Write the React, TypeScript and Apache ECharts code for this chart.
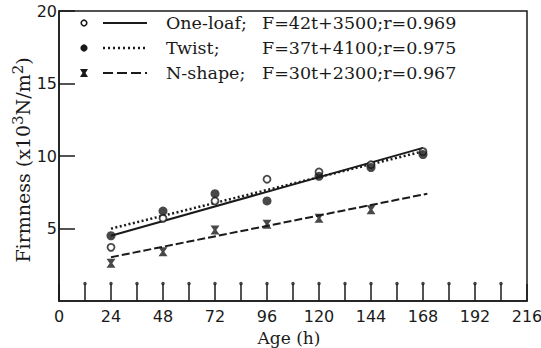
import React, { useEffect, useRef } from 'react';
import * as echarts from 'echarts';

// ---- data ----
const ages = [24, 48, 72, 96, 120, 144, 168];
const nShapeAges = [24, 48, 72, 96, 120, 144];
const oneLoaf = [3.7, 5.7, 6.9, 8.4, 8.9, 9.4, 10.3];
const twist = [4.5, 6.2, 7.4, 6.9, 8.6, 9.2, 10.1];
const nShape = [2.6, 3.4, 4.9, 5.3, 5.7, 6.3];
const oneLoafFit = [[24, 4.5], [168, 10.56]];
const twistFit = [[24, 4.99], [168, 10.32]];
const nShapeFit = [[24, 3.02], [170, 7.4]];
const xTickValues = [12, 24, 36, 48, 60, 72, 84, 96, 108, 120, 132, 144, 156, 168, 180, 192, 204];
const tickHeadLevel = 1.2;
const legendNames = ['One-loaf;', 'Twist;', 'N-shape;'];
const legendEquations = ['F=42t+3500;r=0.969', 'F=37t+4100;r=0.975', 'F=30t+2300;r=0.967'];
const yAxisTitle = '{a|Firmness (x10}{s|3}{a|N/m}{s|2}{a|)}';
const xAxisTitle = 'Age (h)';

const INK = '#1a1a1a';
const HOURGLASS = 'path://M0,0L10,0L6.5,5L10,10L0,10L3.5,5Z';
const TYPE = '"DejaVu Serif", serif';
const SANS = '"DejaVu Sans", sans-serif';

export default function App() {
  const ref = useRef<HTMLDivElement>(null);
  useEffect(() => {
    if (!ref.current) return;
    const chart = echarts.init(ref.current, undefined, { renderer: 'svg' });

    const rowsY = [23, 48, 73];
    const lineDashes: any[] = [null, [2, 3], [10, 4]];
    const graphics: any[] = [];
    legendNames.forEach((name, i) => {
      const y = rowsY[i];
      if (i === 0) {
        graphics.push({ type: 'circle', shape: { cx: 84, cy: y, r: 2.8 }, style: { fill: '#fff', stroke: INK, lineWidth: 1.6 } });
      } else if (i === 1) {
        graphics.push({ type: 'circle', shape: { cx: 84, cy: y, r: 3.6 }, style: { fill: INK } });
      } else {
        graphics.push({ type: 'polygon', shape: { points: [[80, y - 4], [88, y - 4], [85.5, y], [88, y + 4], [80, y + 4], [82.5, y]] }, style: { fill: INK } });
      }
      graphics.push({ type: 'line', shape: { x1: 103, y1: y, x2: 147, y2: y }, style: { stroke: INK, lineWidth: i === 1 ? 2.5 : 2, lineDash: lineDashes[i] } });
      graphics.push({ type: 'text', x: 166, y, style: { text: name, font: `17.5px ${TYPE}`, fill: INK, verticalAlign: 'middle' } });
      graphics.push({ type: 'text', x: 262, y, style: { text: legendEquations[i], font: `17.5px ${TYPE}`, fill: INK, verticalAlign: 'middle' } });
    });
    graphics.push({
      type: 'text', x: 23, y: 160, rotation: Math.PI / 2,
      style: {
        text: yAxisTitle, align: 'center', verticalAlign: 'middle', fill: INK,
        rich: {
          a: { fontFamily: TYPE, fontSize: 19, fill: INK, lineHeight: 26 },
          s: { fontFamily: TYPE, fontSize: 15, fill: INK, verticalAlign: 'top', lineHeight: 26 },
        },
      },
    });
    graphics.push({
      type: 'text', x: 289, y: 338,
      style: { text: xAxisTitle, font: `17px ${TYPE}`, fill: INK, align: 'center', verticalAlign: 'middle' },
    });

    chart.setOption({
      animation: false,
      backgroundColor: '#fff',
      grid: {
        left: 59, right: 14, top: 11, bottom: 47, outerBoundsMode: 'none', containLabel: false,
        show: true, borderColor: INK, borderWidth: 1.5, backgroundColor: 'transparent',
      },
      xAxis: {
        type: 'value', min: 0, max: 216, interval: 12,
        axisLine: { show: true, lineStyle: { color: INK, width: 1.5 } },
        axisTick: { show: true, inside: true, length: 17, lineStyle: { color: INK, width: 1.5 } },
        axisLabel: { formatter: (v: number) => (v % 24 === 0 ? String(v) : ''), fontFamily: SANS, fontSize: 16, color: INK, margin: 7 },
        splitLine: { show: false },
      },
      yAxis: {
        type: 'value', min: 0, max: 20, interval: 5,
        axisLine: { show: true, lineStyle: { color: INK, width: 1.5 } },
        axisTick: { show: true, inside: true, length: 16, lineStyle: { color: INK, width: 1.5 } },
        axisLabel: { showMinLabel: false, fontFamily: SANS, fontSize: 16, color: INK, margin: 2 },
        splitLine: { show: false },
      },
      graphic: graphics,
      series: [
        { type: 'line', data: oneLoafFit, symbol: 'none', lineStyle: { color: INK, width: 2 }, z: 2 },
        { type: 'line', data: twistFit, symbol: 'none', lineStyle: { color: INK, width: 2.5, type: [2, 2.5] }, z: 2 },
        { type: 'line', data: nShapeFit, symbol: 'none', lineStyle: { color: INK, width: 2, type: [8, 3] }, z: 2 },
        { type: 'scatter', data: ages.map((a, i) => [a, oneLoaf[i]]), symbol: 'circle', symbolSize: 7, itemStyle: { color: '#fff', borderColor: INK, borderWidth: 1.8 }, z: 3 },
        { type: 'scatter', data: ages.map((a, i) => [a, twist[i]]), symbol: 'circle', symbolSize: 9, itemStyle: { color: INK }, z: 3 },
        { type: 'scatter', data: nShapeAges.map((a, i) => [a, nShape[i]]), symbol: HOURGLASS, symbolSize: 9, itemStyle: { color: INK }, z: 3 },
        { type: 'scatter', data: xTickValues.map((t) => [t, tickHeadLevel]), symbol: 'circle', symbolSize: 3.5, itemStyle: { color: INK }, z: 3, silent: true },
      ],
    });
    return () => chart.dispose();
  }, []);
  return <div ref={ref} style={{ position: 'fixed', left: 0, top: 0, width: 541, height: 348 }} />;
}
